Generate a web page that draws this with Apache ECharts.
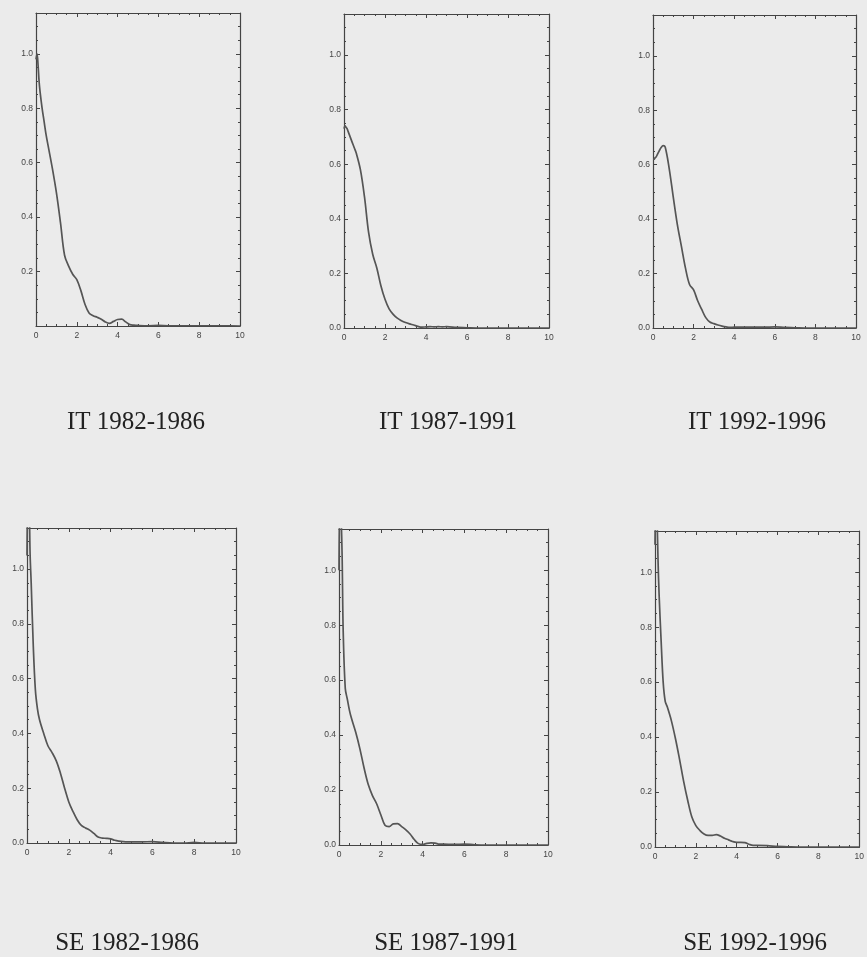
<!DOCTYPE html>
<html>
<head>
<meta charset="utf-8">
<script src="https://cdn.jsdelivr.net/npm/echarts@6/dist/echarts.min.js"></script>
<style>
html,body{margin:0;padding:0;background:#ebebeb;}
#chart{width:867px;height:957px;}
</style>
</head>
<body>
<div id="chart"></div>
<script>
// ---- data ----
const xs = [0,0.05,0.1,0.15,0.2,0.3,0.4,0.5,0.6,0.8,1.0,1.2,1.4,1.6,1.8,2.0,2.2,2.4,2.6,2.8,3.0,3.2,3.4,3.6,3.8,4.0,4.2,4.4,4.6,4.8,5.0,5.5,6.0,6.5,7.0,7.5,8.0,8.5,9.0,9.5,10];

const it8286 = [0.98,1.0,0.96,0.9,0.86,0.8,0.75,0.7,0.66,0.58,0.49,0.38,0.26,0.22,0.19,0.17,0.13,0.08,0.048,0.038,0.032,0.025,0.015,0.01,0.017,0.024,0.025,0.015,0.005,0.003,0.002,0.001,0.002,0.001,0.001,0.001,0.001,0.001,0.001,0.001,0];
const it8791 = [0.73,0.74,0.735,0.73,0.72,0.70,0.68,0.66,0.64,0.58,0.48,0.35,0.27,0.22,0.155,0.105,0.07,0.05,0.036,0.027,0.02,0.015,0.011,0.006,0.003,0.004,0.005,0.004,0.005,0.004,0.005,0.002,0.001,0,0,0,0,0,0,0,0];
const it9296 = [0.62,0.62,0.625,0.628,0.635,0.65,0.663,0.67,0.665,0.585,0.48,0.38,0.30,0.22,0.16,0.14,0.10,0.068,0.038,0.022,0.016,0.011,0.007,0.004,0.002,0.003,0.003,0.003,0.003,0.003,0.003,0.003,0.004,0.002,0.001,0,0,0,0,0,0];
const se8286 = [1.05,1.3,1.25,1.05,0.95,0.72,0.56,0.49,0.45,0.40,0.355,0.33,0.30,0.255,0.20,0.15,0.115,0.085,0.064,0.055,0.047,0.035,0.022,0.018,0.017,0.015,0.01,0.007,0.005,0.004,0.004,0.004,0.005,0.002,0,0,0.002,0,0,0,0];
const se8791 = [1.0,1.3,1.2,1.05,0.78,0.57,0.53,0.49,0.46,0.41,0.35,0.28,0.22,0.18,0.15,0.11,0.072,0.067,0.077,0.078,0.067,0.055,0.04,0.02,0.005,0.002,0.006,0.008,0.007,0.003,0.003,0.002,0.003,0.001,0,0,0,0,0,0,0];
const se9296 = [1.1,1.3,1.2,1.04,0.92,0.75,0.6,0.53,0.51,0.46,0.395,0.32,0.24,0.17,0.11,0.078,0.06,0.047,0.042,0.042,0.045,0.04,0.032,0.026,0.02,0.017,0.017,0.016,0.01,0.006,0.006,0.005,0.002,0.001,0,0,0,0,0,0,0];

const titles = ['IT 1982-1986','IT 1987-1991','IT 1992-1996','SE 1982-1986','SE 1987-1991','SE 1992-1996'];
const seriesList = [it8286, it8791, it9296, se8286, se8791, se9296];
const xTicks = [0, 10, 2];      // min, max, interval
const yTicks = [0, 1.15, 0.2];  // min, max, interval

// ---- layout ----
const layout = [
  {left:36,  top:13,  width:204, height:313, tx:136, ty:422, hideZero:true},
  {left:344, top:14,  width:205, height:314, tx:448, ty:422},
  {left:653, top:15,  width:203, height:313, tx:757, ty:422},
  {left:27,  top:528, width:209, height:315, tx:127, ty:943},
  {left:339, top:529, width:209, height:316, tx:446, ty:943},
  {left:655, top:531, width:208, height:316, tx:755, ty:943}
];

const AX = '#444';
const lblFont = {fontFamily:'"Liberation Sans", Arial, sans-serif', fontSize:8.5, color:'#444'};

const grid = [], xAxis = [], yAxis = [], series = [], graphic = [];

layout.forEach((p, i) => {
  grid.push({left:p.left, top:p.top, width:p.width, height:p.height, containLabel:false});
  const common = {
    type:'value', gridIndex:i,
    axisLine:{show:true, onZero:false, lineStyle:{color:AX, width:1.2}},
    axisTick:{show:true, inside:true, length:4, lineStyle:{color:AX, width:1}},
    minorTick:{show:true, splitNumber:4, length:2, lineStyle:{color:AX, width:1}},
    splitLine:{show:false}, minorSplitLine:{show:false}
  };
  xAxis.push(Object.assign({}, common, {
    position:'bottom', min:xTicks[0], max:xTicks[1], interval:xTicks[2],
    axisLabel:Object.assign({show:true, margin:5, formatter:v => String(Math.round(v))}, lblFont)
  }));
  xAxis.push(Object.assign({}, common, {
    position:'top', min:xTicks[0], max:xTicks[1], interval:xTicks[2],
    axisLabel:{show:false}
  }));
  yAxis.push(Object.assign({}, common, {
    position:'left', min:yTicks[0], max:yTicks[1], interval:yTicks[2],
    axisLabel:Object.assign({show:true, margin:3, formatter:v => {
      if (v > 1.001) return '';
      if (p.hideZero && Math.abs(v) < 1e-9) return '';
      return v.toFixed(1);
    }}, lblFont)
  }));
  yAxis.push(Object.assign({}, common, {
    position:'right', min:yTicks[0], max:yTicks[1], interval:yTicks[2],
    axisLabel:{show:false}
  }));
  const ys = seriesList[i];
  series.push({
    type:'line', xAxisIndex:2*i, yAxisIndex:2*i,
    data: xs.map((x, k) => [x, ys[k]]),
    showSymbol:false, smooth:0.35, clip:true,
    lineStyle:{color:'#555', width:1.7}, silent:true, animation:false
  });
  graphic.push({
    type:'text', x:p.tx, y:p.ty,
    style:{text:titles[i], fontFamily:'"Liberation Serif", "Times New Roman", serif', fontSize:25,
           fill:'#222', align:'center', verticalAlign:'middle'}
  });
});

const chart = echarts.init(document.getElementById('chart'), null, {renderer:'canvas'});
chart.setOption({
  backgroundColor:'#ebebeb',
  animation:false,
  grid, xAxis, yAxis, series, graphic
});
</script>
</body>
</html>
